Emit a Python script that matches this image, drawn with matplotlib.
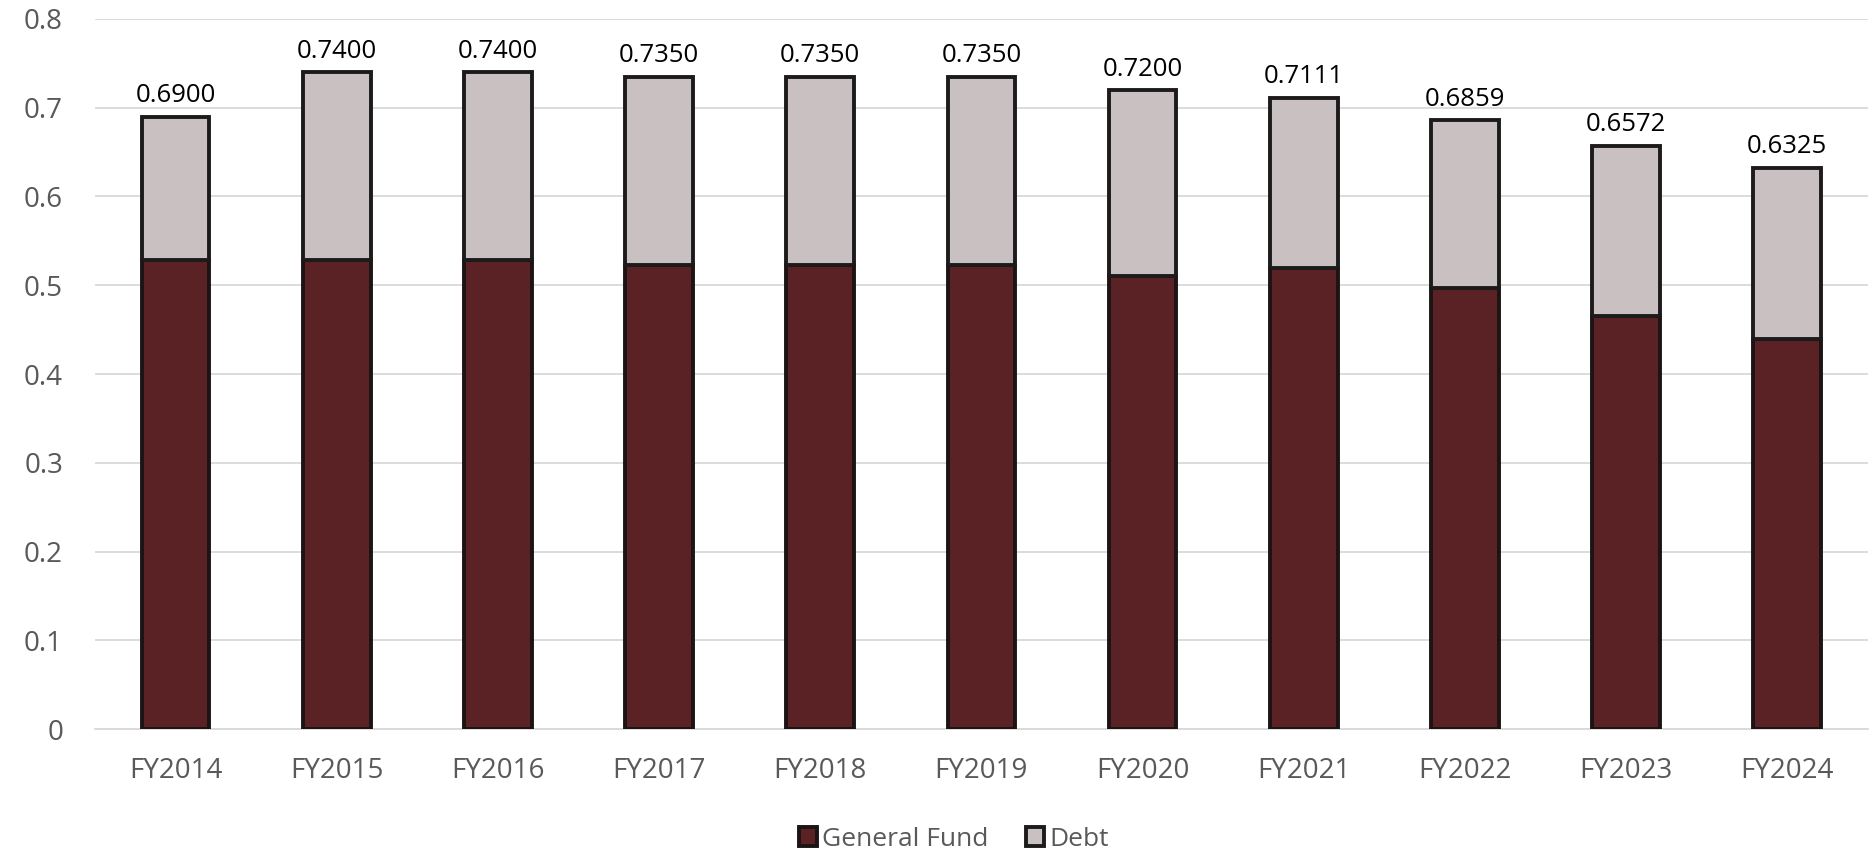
import matplotlib.pyplot as plt
import numpy as np

# Chart data
years = ["FY2014", "FY2015", "FY2016", "FY2017", "FY2018", "FY2019",
         "FY2020", "FY2021", "FY2022", "FY2023", "FY2024"]
total_rate = [0.6900, 0.7400, 0.7400, 0.7350, 0.7350, 0.7350,
              0.7200, 0.7111, 0.6859, 0.6572, 0.6325]
general_fund = [0.528, 0.528, 0.528, 0.523, 0.523, 0.523,
                0.511, 0.519, 0.497, 0.465, 0.440]
debt = [t - g for t, g in zip(total_rate, general_fund)]
yticks = [0, 0.1, 0.2, 0.3, 0.4, 0.5, 0.6, 0.7, 0.8]
ytick_labels = ["0", "0.1", "0.2", "0.3", "0.4", "0.5", "0.6", "0.7", "0.8"]

plt.rcParams["font.family"] = ["Open Sans", "DejaVu Sans"]

fig = plt.figure(figsize=(18.7, 8.58), dpi=100)
ax = fig.add_axes([0.0508, 0.150, 0.948, 0.828])

x = np.arange(len(years))
width = 0.42

gf_bars = ax.bar(x, general_fund, width, color="#5a2224", edgecolor="#1c1414",
                 linewidth=2.8, label="General Fund", zorder=3)
debt_bars = ax.bar(x, debt, width, bottom=general_fund, color="#c9c1c1",
                   edgecolor="#1c1a1a", linewidth=2.8, label="Debt", zorder=3)

# Total labels above each stack
for xi, t in zip(x, total_rate):
    ax.annotate(f"{t:.4f}", (xi, t), xytext=(0, 6), textcoords="offset points",
                ha="center", va="bottom", fontsize=18.5, color="black")

ax.set_ylim(0, 0.8)
ax.set_xlim(-0.5, len(years) - 0.5)
ax.set_yticks(yticks)
ax.set_yticklabels(ytick_labels)
ax.set_xticks(x)
ax.set_xticklabels(years)
ax.tick_params(axis="both", length=0, labelsize=20, labelcolor="#595959")
ax.tick_params(axis="y", pad=23)
ax.tick_params(axis="x", pad=20)

ax.yaxis.grid(True, color="#d9d9d9", linewidth=1.3, zorder=0)
ax.set_axisbelow(True)
for s in ["top", "right", "left"]:
    ax.spines[s].set_visible(False)
ax.spines["bottom"].set_color("#d9d9d9")
ax.spines["bottom"].set_linewidth(1.3)

fig.legend(handles=[gf_bars, debt_bars], loc="center", bbox_to_anchor=(0.51, 0.022),
           ncol=2, frameon=False, fontsize=19, labelcolor="#595959",
           handlelength=0.7, handleheight=0.7, handletextpad=0.2, columnspacing=1.4)

plt.savefig("out.png", dpi=100)
